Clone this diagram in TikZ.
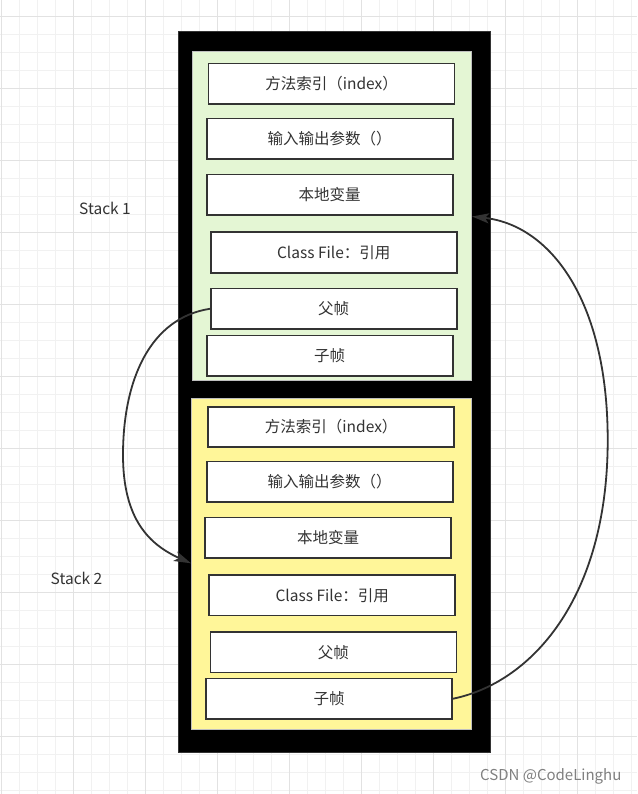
\documentclass[tikz,border=0pt]{standalone}
\usepackage{fontspec}
\setmainfont{Noto Sans CJK SC}
\usetikzlibrary{arrows.meta}
\definecolor{gridminor}{RGB}{241,241,241}
\definecolor{gridmajor}{RGB}{226,226,226}
\definecolor{frameline}{RGB}{51,51,51}
\definecolor{greenfill}{RGB}{228,246,212}
\definecolor{yellowfill}{RGB}{255,246,153}
\begin{document}
\begin{tikzpicture}[x=1pt, y=-1pt, >={Stealth[length=17pt,width=10pt,inset=4pt]},
    cellbox/.style={draw=frameline, line width=1.6pt, fill=white, minimum width=246pt,
      minimum height=40.5pt, inner sep=0pt, font=\fontsize{15.5}{17}\selectfont, text=frameline},
    stacklabel/.style={font=\fontsize{15.5}{17}\selectfont, text=frameline},
    link/.style={->, draw=frameline, line width=1.8pt}]
        % Nền lưới
        \useasboundingbox (0,0) rectangle (637,794);
        \fill[white] (0,0) rectangle (637,794);
        \foreach \k in {0,...,35} \draw[gridminor, line width=0.8pt] (1.3+18*\k,0) -- (1.3+18*\k,794);
        \foreach \k in {0,...,43} \draw[gridminor, line width=0.8pt] (0,16+18*\k) -- (637,16+18*\k);
        \foreach \k in {0,...,8} \draw[gridmajor, line width=0.8pt] (1.3+72*\k,0) -- (1.3+72*\k,794);
        \foreach \k in {0,...,10} \draw[gridmajor, line width=0.8pt] (0,16+72*\k) -- (637,16+72*\k);

        % Khung đen và hai stack
        \draw[frameline, fill=black, line width=1pt] (178.3,31.7) rectangle (490.7,752.7);
        \draw[black!25, fill=greenfill, line width=0.8pt] (192.7,51.7) rectangle (471.7,380);
        \draw[black!25, fill=yellowfill, line width=0.8pt] (191.7,398) rectangle (471.7,729);

        % Stack 1
        \node[cellbox] (idx1) at (331.6,83.8) {方法索引（index）};
        \node[cellbox] (arg1) at (329.7,138.7) {输入输出参数（）};
        \node[cellbox] (var1) at (329.7,194.7) {本地变量};
        \node[cellbox] (cls1) at (333.7,252.5) {Class File：引用};
        \node[cellbox] (par1) at (333.7,308.8) {父帧};
        \node[cellbox] (chd1) at (329.7,355.8) {子帧};

        % Stack 2
        \node[cellbox] (idx2) at (331.2,427) {方法索引（index）};
        \node[cellbox] (arg2) at (329.7,481.7) {输入输出参数（）};
        \node[cellbox] (var2) at (328.2,537.6) {本地变量};
        \node[cellbox] (cls2) at (332.2,595.3) {Class File：引用};
        \node[cellbox] (par2) at (333.3,652.2) {父帧};
        \node[cellbox] (chd2) at (329.2,698.7) {子帧};

        % Nhãn
        \node[stacklabel] (lab1) at (105,208) {Stack 1};
        \node[stacklabel] (lab2) at (76.5,578) {Stack 2};

        % Mũi tên
        \coordinate (tip2) at (191,563.3);
        \coordinate (tip1) at (472,216.5);
        \draw[link] (par1.west) .. controls (150,318) and (123,380) .. (123,455)
            .. controls (123,520) and (150,545) .. (tip2);
        \draw[link] (chd2.east) .. controls (530,683) and (607.7,600) .. (607.7,440)
            .. controls (607.7,300) and (550,225) .. (tip1);

        % Watermark
        \node[font=\fontsize{15}{17}\selectfont, text=black!50] (mark) at (550.8,776) {CSDN @CodeLinghu};
\end{tikzpicture}
\end{document}
